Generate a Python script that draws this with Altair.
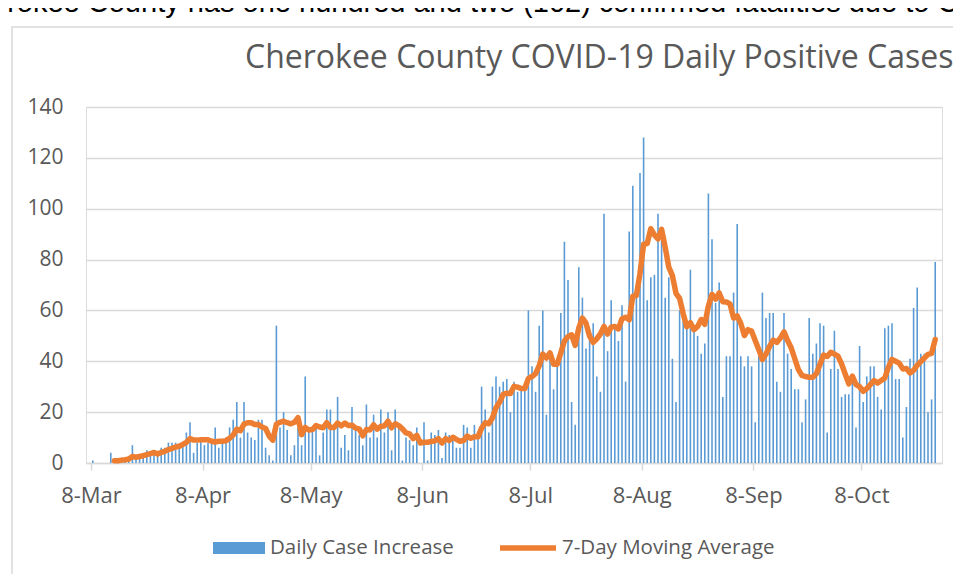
import altair as alt
import pandas as pd

# Daily case increase, one value per day starting 8-Mar-2020
start_date = "2020-03-08"
cases_mar_apr = [1, 0, 0, 0, 0, 4, 1, 1, 2, 1, 2, 7, 2, 3, 3, 5, 4, 5, 3, 6,
                 6, 8, 8, 8, 7, 8, 12, 16, 4, 8]
cases_apr_may = [9, 7, 8, 8, 14, 6, 8, 10, 14, 17, 24, 10, 24, 12, 10, 9, 17, 17, 6, 3,
                 1, 54, 14, 20, 13, 3, 7, 14, 7, 34, 13, 14, 14]
cases_may_jun = [3, 12, 21, 21, 13, 26, 6, 11, 5, 22, 13, 11, 7, 23, 10, 19, 10, 21, 12, 20,
                 5, 21, 14, 1, 10, 9, 7, 14, 0, 16]
cases_jun_jul = [1, 12, 11, 13, 2, 12, 11, 10, 6, 6, 15, 14, 6, 15, 10, 30, 21, 12, 30, 34,
                 30, 32, 33, 20, 32, 28, 30, 30, 60, 38, 28, 54]
cases_jul_aug = [60, 19, 44, 29, 38, 59, 87, 72, 24, 15, 77, 65, 45, 51, 55, 34, 28, 98, 44, 64,
                 53, 48, 62, 32, 91, 109, 66, 114, 128, 64]
cases_aug_sep = [73, 74, 98, 92, 65, 73, 41, 24, 60, 56, 56, 76, 54, 50, 43, 47, 106, 88, 63, 71,
                 26, 42, 42, 67, 94, 42, 38, 42, 38, 16]
cases_sep_oct = [42, 67, 57, 59, 59, 32, 28, 59, 43, 37, 29, 29, 16, 25, 57, 43, 47, 55, 54, 12,
                 37, 52, 37, 26, 27, 27, 33, 14, 46, 24]
cases_oct = [34, 38, 38, 26, 21, 53, 54, 55, 33, 33, 10, 22, 41, 61, 69, 43, 43, 20, 25, 79]

cases = (cases_mar_apr + cases_apr_may + cases_may_jun + cases_jun_jul
         + cases_jul_aug + cases_aug_sep + cases_sep_oct + cases_oct)

tick_months = [3, 4, 5, 6, 7, 8, 9, 10]
y_ticks = [0, 20, 40, 60, 80, 100, 120, 140]

title_text = "Cherokee County COVID-19 Daily Positive Cases"
page_text = "Cherokee County has one hundred and two (102) confirmed fatalities due to COVID-19."
bar_label = "Daily Case Increase"
line_label = "7-Day Moving Average"

dates = pd.date_range(start_date, periods=len(cases), freq="D")
df = pd.DataFrame({
    "date": [d.strftime("%Y-%m-%dT12:00:00Z") for d in dates],
    "cases": cases,
})

GRAY_TEXT = "#595959"
GRID = "#d9d9d9"
FONT = "Open Sans"

x_enc = alt.X(
    "date:T",
    scale=alt.Scale(
        type="utc",
        domain=[alt.DateTime(year=2020, month=3, date=8, utc=True),
                alt.DateTime(year=2020, month=10, date=29, utc=True)],
    ),
    axis=alt.Axis(
        values=[alt.DateTime(year=2020, month=m, date=8, utc=True) for m in tick_months],
        format="%-d-%b",
        title=None,
        grid=False,
        domainColor=GRID,
        domainWidth=1.5,
        tickColor=GRID,
        tickWidth=1.5,
        tickSize=7,
        labelFontSize=22,
        labelColor=GRAY_TEXT,
        labelFont=FONT,
        labelPadding=15,
    ),
)

y_scale = alt.Scale(domain=[0, 140], nice=False)
y_axis = alt.Axis(
    values=y_ticks,
    title=None,
    grid=True,
    gridColor=GRID,
    gridWidth=1.5,
    domain=False,
    ticks=False,
    labelFontSize=21,
    labelColor=GRAY_TEXT,
    labelFont=FONT,
    labelPadding=23,
)

base = alt.Chart(df)

bars = base.transform_calculate(series=f"'{bar_label}'").mark_bar(size=1.6).encode(
    x=x_enc,
    y=alt.Y("cases:Q", scale=y_scale, axis=y_axis),
    fill=alt.Fill(
        "series:N",
        scale=alt.Scale(domain=[bar_label], range=["#5b9bd5"]),
        legend=alt.Legend(
            orient="none", legendX=127, legendY=415, title=None,
            symbolType="M-1,-0.23H1V0.23H-1Z", symbolSize=2704,
            symbolStrokeWidth=0, symbolOpacity=1,
            labelFontSize=20.5, labelFont=FONT, labelColor=GRAY_TEXT,
            labelOffset=5, padding=0, labelLimit=400,
        ),
    ),
)

line = base.transform_window(
    ma="mean(cases)", rn="row_number()", frame=[-6, 0],
    sort=[alt.SortField("date")],
).transform_filter("datum.rn >= 7").transform_calculate(
    series=f"'{line_label}'"
).mark_line(strokeWidth=5.5, strokeCap="round", strokeJoin="round").encode(
    x=x_enc,
    y=alt.Y("ma:Q", scale=y_scale, axis=y_axis),
    stroke=alt.Stroke(
        "series:N",
        scale=alt.Scale(domain=[line_label], range=["#ed7d31"]),
        legend=alt.Legend(
            orient="none", legendX=411, legendY=410, title=None,
            symbolType="stroke", symbolSize=3136, symbolStrokeWidth=5.5,
            labelFontSize=20.5, labelFont=FONT, labelColor=GRAY_TEXT,
            labelOffset=3, padding=0, labelLimit=400,
        ),
    ),
)

one = alt.Chart(pd.DataFrame({"k": [0]}))

frame = one.mark_rect(fill=None, stroke=GRID, strokeWidth=1.5).encode(
    x=alt.value(-74), x2=alt.value(900), y=alt.value(-80), y2=alt.value(520)
)

title = one.mark_text(
    text=title_text, align="left", baseline="alphabetic",
    font=FONT, fontSize=32, color=GRAY_TEXT,
).encode(x=alt.value(159), y=alt.value(-39))

page_line = one.mark_text(
    text=page_text, align="left", baseline="alphabetic",
    font="Liberation Sans", fontSize=29, color="#000000",
).encode(x=alt.value(-132), y=alt.value(-95))

chart = alt.layer(frame, page_line, title, bars, line).resolve_scale(
    fill="independent", stroke="independent"
).properties(
    width=856, height=356,
    autosize=alt.AutoSizeParams(type="none"),
    padding={"left": 78, "top": 99, "right": 11, "bottom": 111},
).configure_view(stroke=None).configure(font=FONT)

chart.save("out.html", embed_options={"renderer": "svg", "actions": False})
